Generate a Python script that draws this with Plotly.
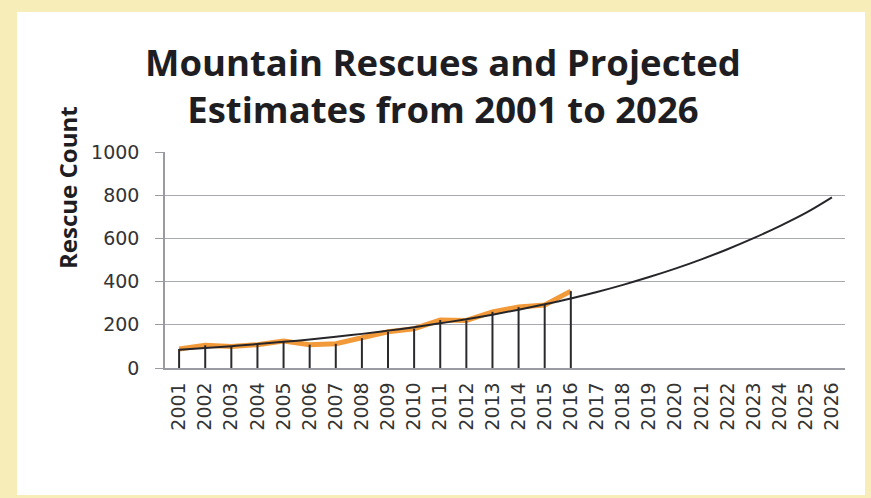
import plotly.graph_objects as go

years = list(range(2001, 2027))
actual_years = list(range(2001, 2017))
rescues = [88, 105, 100, 108, 125, 108, 112, 138, 168, 182, 222, 220, 260, 282, 292, 356]
trend = [85, 93, 101, 111, 121, 132, 145, 158, 173, 189, 207, 226, 247, 270, 295, 322,
         352, 385, 421, 460, 503, 550, 601, 657, 718, 790]
y_ticks = [0, 200, 400, 600, 800, 1000]

# stems from zero to each observed value
stem_x, stem_y = [], []
for xv, yv in zip(actual_years, rescues):
    stem_x += [xv, xv, None]
    stem_y += [0, yv, None]

fig = go.Figure()
fig.add_trace(go.Scatter(x=actual_years, y=rescues, mode="lines",
                         line=dict(color="#f29a3a", width=5), showlegend=False))
fig.add_trace(go.Scatter(x=stem_x, y=stem_y, mode="lines",
                         line=dict(color="#2a2a2e", width=2), showlegend=False))
fig.add_trace(go.Scatter(x=years, y=trend, mode="lines", line_shape="spline",
                         line=dict(color="#26262a", width=2), showlegend=False))

PL, PR, PT, PB = 165, 845, 152, 368
pw, ph = PR - PL, PB - PT

fig.update_layout(
    width=871, height=498,
    margin=dict(l=PL, r=871 - PR, t=PT, b=498 - PB),
    paper_bgcolor="#f6edb8",
    plot_bgcolor="white",
    shapes=[dict(type="rect", xref="paper", yref="paper", layer="below",
                 x0=(17 - PL) / pw, x1=(865 - PL) / pw,
                 y0=(PB - 495) / ph, y1=(PB - 12) / ph,
                 fillcolor="white", line=dict(width=0))],
    xaxis=dict(range=[2000.46, 2026.5], tickmode="array", tickvals=years,
               ticktext=[str(y) for y in years], tickangle=-90,
               showgrid=False, zeroline=False, showline=True,
               linecolor="#9a9aa2", linewidth=1.5, ticks="",
               ticklabelstandoff=5,
               tickfont=dict(family="DejaVu Sans", size=19, color="#333"),
               fixedrange=True),
    yaxis=dict(range=[0, 1000], tickmode="array", tickvals=y_ticks,
               showgrid=True, gridcolor="#a9a9b2", gridwidth=1.3,
               zeroline=False, showline=True, linecolor="#9a9aa2", linewidth=1.5,
               ticks="outside", ticklen=8, tickcolor="#9a9aa2",
               ticklabelstandoff=12,
               tickfont=dict(family="DejaVu Sans", size=19, color="#333"),
               fixedrange=True),
    annotations=[
        dict(text="<b>Mountain Rescues and Projected<br>Estimates from 2001 to 2026</b>",
             xref="paper", yref="paper", x=(443 - PL) / pw, y=(PB - 85) / ph,
             xanchor="center", yanchor="middle", showarrow=False,
             font=dict(family="Open Sans", size=36.5, color="#1e1e22"), align="center"),
        dict(text="<b>Rescue Count</b>", xref="paper", yref="paper",
             x=(67 - PL) / pw, y=(PB - 188) / ph, textangle=-90,
             xanchor="center", yanchor="middle", showarrow=False,
             font=dict(family="Open Sans", size=24, color="#1e1e22")),
    ],
)
fig.write_html("out.html", config={"displayModeBar": False},
               post_script="document.body.style.margin='0';")
